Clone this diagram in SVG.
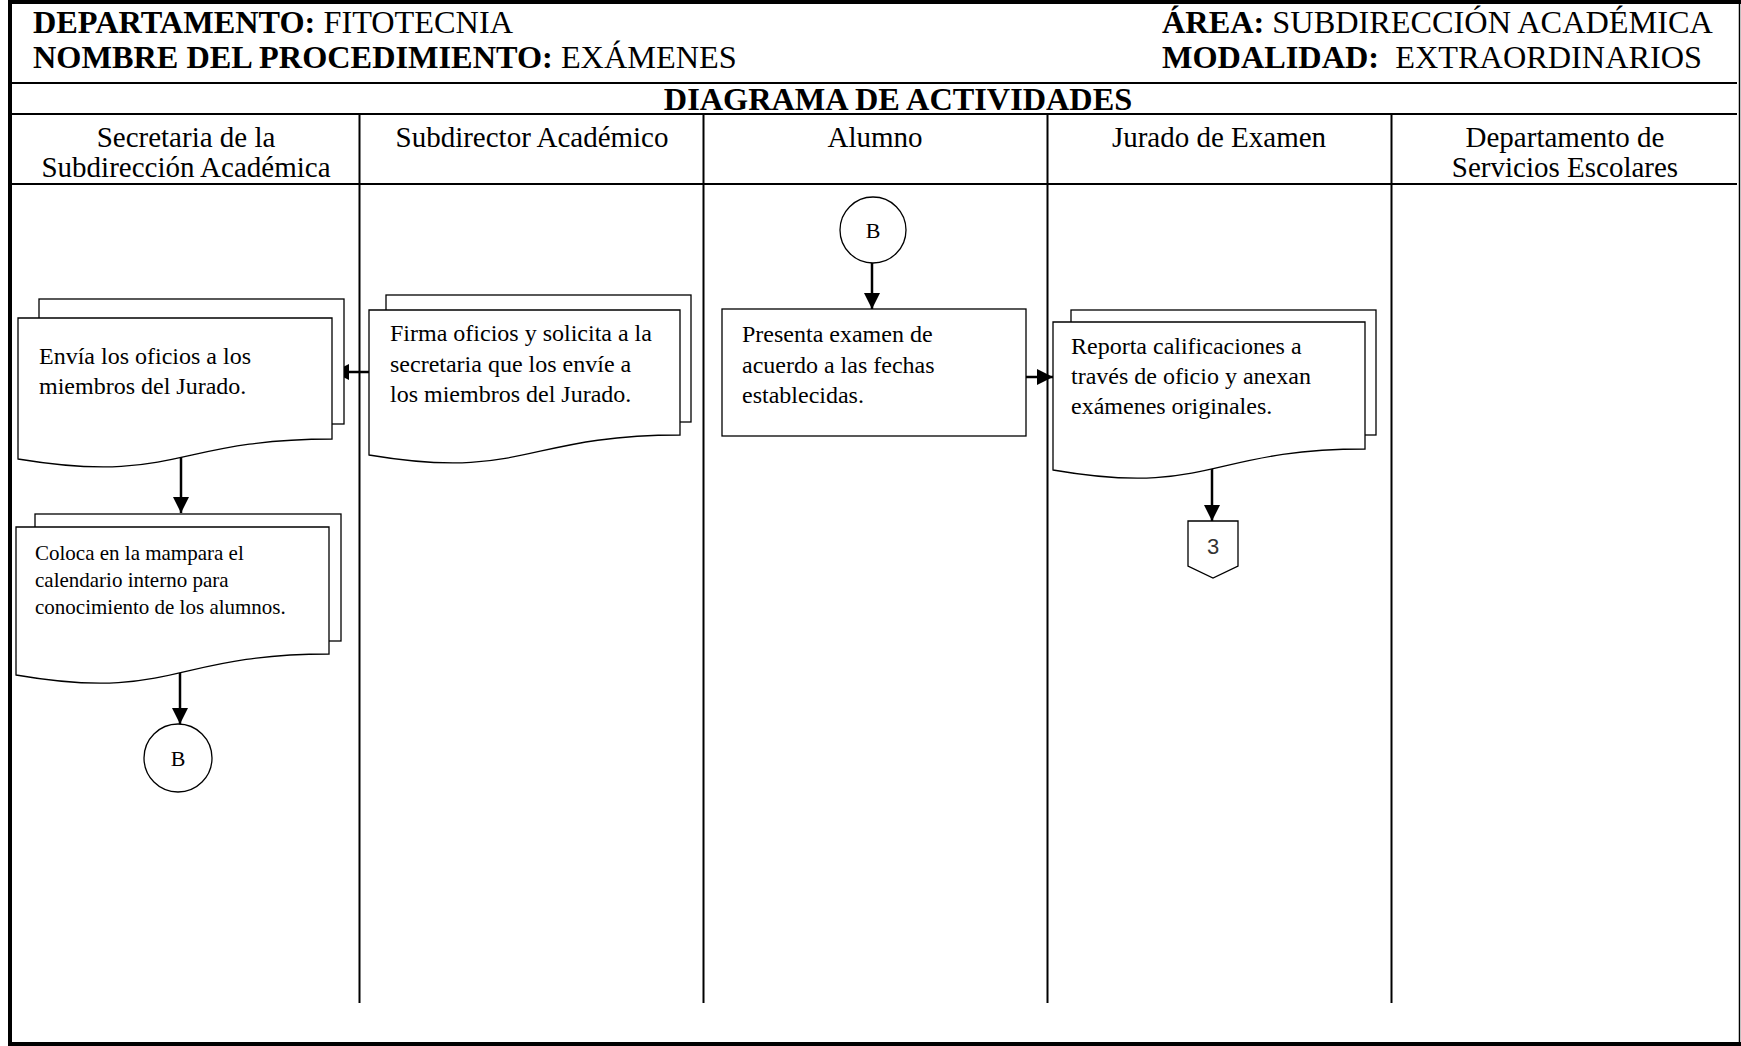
<svg xmlns="http://www.w3.org/2000/svg" width="1741" height="1046" viewBox="0 0 1741 1046">
<style>
text{font-family:"Liberation Serif","Times New Roman",serif;fill:#000}
.hb{font-size:32.3px;font-weight:bold}
.hr{font-weight:normal}
.lane{font-size:29px;text-anchor:middle}
.nt{font-size:24px}
.nt2{font-size:21px}
.shape{fill:#fff;stroke:#000;stroke-width:1.3}
.conn{stroke:#000;stroke-width:2.5;fill:none}
.grid{stroke:#000;stroke-width:2;fill:none}
</style>
<defs>
<marker id="ah" markerUnits="userSpaceOnUse" markerWidth="16" markerHeight="16" refX="16" refY="8" orient="auto">
<path d="M0,0 L16,8 L0,16 Z" fill="#000"/>
</marker>
</defs>
<rect x="0" y="0" width="1741" height="1046" fill="#fff"/>
<g id="frame">
<line x1="10" y1="0" x2="10" y2="1046" stroke="#000" stroke-width="4"/>
<line x1="8" y1="2" x2="1741" y2="2" stroke="#000" stroke-width="4"/>
<line x1="8" y1="1044" x2="1741" y2="1044" stroke="#000" stroke-width="4"/>
<line x1="1739.5" y1="0" x2="1739.5" y2="1046" stroke="#000" stroke-width="1.5"/>
<line class="grid" x1="10" y1="83" x2="1737" y2="83" stroke-width="3"/>
<line class="grid" x1="10" y1="114" x2="1737" y2="114"/>
<line class="grid" x1="10" y1="184" x2="1737" y2="184"/>
<line class="grid" x1="359.5" y1="114" x2="359.5" y2="1003" stroke-width="1.5"/>
<line class="grid" x1="703.5" y1="114" x2="703.5" y2="1003" stroke-width="1.5"/>
<line class="grid" x1="1047.5" y1="114" x2="1047.5" y2="1003" stroke-width="1.5"/>
<line class="grid" x1="1391.5" y1="114" x2="1391.5" y2="1003" stroke-width="1.5"/>
</g>
<g id="header">
<text class="hb" x="33" y="33">DEPARTAMENTO: <tspan class="hr">FITOTECNIA</tspan></text>
<text class="hb" x="33" y="68">NOMBRE DEL PROCEDIMIENTO: <tspan class="hr">EXÁMENES</tspan></text>
<text class="hb" x="1162" y="33">ÁREA: <tspan class="hr">SUBDIRECCIÓN ACADÉMICA</tspan></text>
<text class="hb" x="1162" y="68" xml:space="preserve">MODALIDAD:  <tspan class="hr">EXTRAORDINARIOS</tspan></text>
<text class="hb" x="898" y="110" text-anchor="middle">DIAGRAMA DE ACTIVIDADES</text>
<text class="lane" x="186" y="147">Secretaria de la</text>
<text class="lane" x="186" y="177">Subdirección Académica</text>
<text class="lane" x="532" y="147">Subdirector Académico</text>
<text class="lane" x="875" y="147">Alumno</text>
<text class="lane" x="1219" y="147">Jurado de Examen</text>
<text class="lane" x="1565" y="147">Departamento de</text>
<text class="lane" x="1565" y="177">Servicios Escolares</text>
</g>
<g id="connectors">
<line class="conn" x1="369" y1="372" x2="333" y2="372" marker-end="url(#ah)"/>
<line class="conn" x1="181" y1="457" x2="181" y2="513" marker-end="url(#ah)"/>
<line class="conn" x1="180" y1="672" x2="180" y2="724" marker-end="url(#ah)"/>
<line class="conn" x1="872" y1="263" x2="872" y2="309" marker-end="url(#ah)"/>
<line class="conn" x1="1026" y1="377" x2="1053" y2="377" marker-end="url(#ah)"/>
<line class="conn" x1="1212" y1="465" x2="1212" y2="521" marker-end="url(#ah)"/>
</g>
<g id="n-envia">
<rect class="shape" x="39" y="299" width="305" height="125"/>
<path class="shape" d="M18,318 H332 V439 C175,439 175,485 18,459 Z"/>
<text class="nt" x="39" y="364">Envía los oficios a los</text>
<text class="nt" x="39" y="394">miembros del Jurado.</text>
</g>
<g id="n-coloca">
<rect class="shape" x="35" y="514" width="306" height="127"/>
<path class="shape" d="M16,527 H329 V654 C172,654 172,702 16,675 Z"/>
<text class="nt2" x="35" y="560">Coloca en la mampara el</text>
<text class="nt2" x="35" y="587">calendario interno para</text>
<text class="nt2" x="35" y="614">conocimiento de los alumnos.</text>
</g>
<g id="n-b1">
<circle class="shape" cx="178" cy="758" r="34"/>
<text x="178" y="766" text-anchor="middle" font-size="22">B</text>
</g>
<g id="n-firma">
<rect class="shape" x="386" y="295" width="305" height="127"/>
<path class="shape" d="M369,310 H680 V435 C524,435 524,481 369,455 Z"/>
<text class="nt" x="390" y="341">Firma oficios y solicita a la</text>
<text class="nt" x="390" y="372">secretaria que los envíe a</text>
<text class="nt" x="390" y="402">los miembros del Jurado.</text>
</g>
<g id="n-b2">
<circle class="shape" cx="873" cy="230" r="33"/>
<text x="873" y="238" text-anchor="middle" font-size="22">B</text>
</g>
<g id="n-presenta">
<rect class="shape" x="722" y="309" width="304" height="127"/>
<text class="nt" x="742" y="342">Presenta examen de</text>
<text class="nt" x="742" y="373">acuerdo a las fechas</text>
<text class="nt" x="742" y="403">establecidas.</text>
</g>
<g id="n-reporta">
<rect class="shape" x="1071" y="310" width="305" height="125"/>
<path class="shape" d="M1053,322 H1365 V449 C1209,449 1209,497 1053,470 Z"/>
<text class="nt" x="1071" y="354">Reporta calificaciones a</text>
<text class="nt" x="1071" y="384">través de oficio y anexan</text>
<text class="nt" x="1071" y="414">exámenes originales.</text>
</g>
<g id="n-3">
<path class="shape" d="M1188,521 H1238 V566 L1213,578 L1188,566 Z"/>
<text x="1213" y="554" text-anchor="middle" font-size="22" style="font-family:'Liberation Sans',Arial,sans-serif;fill:#333">3</text>
</g>
</svg>
